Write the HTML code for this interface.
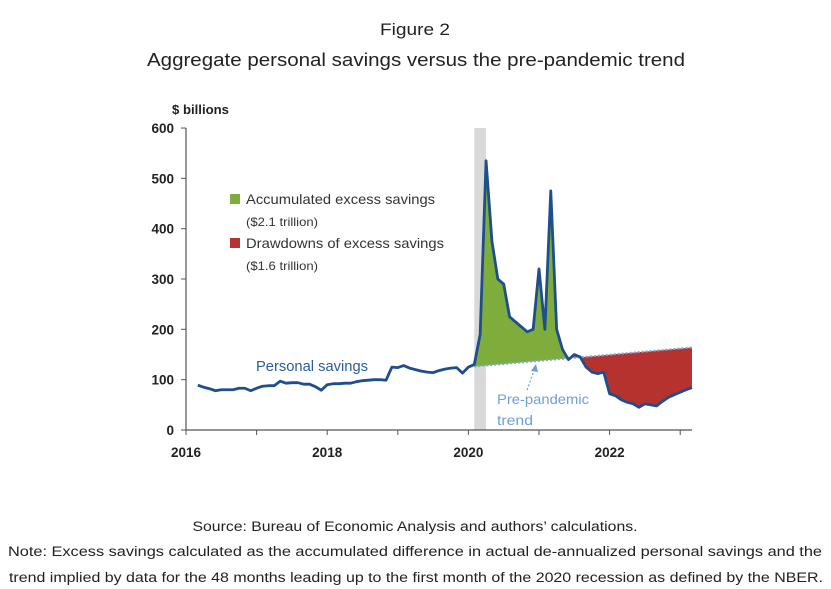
<!DOCTYPE html>
<html><head><meta charset="utf-8"><style>
html,body{margin:0;padding:0;background:#fff;}
svg{display:block;font-family:"Liberation Sans",sans-serif;}
</style></head><body>
<svg id="chart" width="831" height="589" viewBox="0 0 831 589">
<text x="415" y="35" font-size="17" fill="#222" text-anchor="middle" textLength="70" lengthAdjust="spacingAndGlyphs">Figure 2</text>
<text x="416" y="66" font-size="18" fill="#222" text-anchor="middle" textLength="538" lengthAdjust="spacingAndGlyphs">Aggregate personal savings versus the pre-pandemic trend</text>
<text x="172" y="114" font-size="13" font-weight="bold" fill="#222" textLength="57" lengthAdjust="spacingAndGlyphs">$ billions</text>
<g id="plot"></g>
<text x="415" y="531" font-size="13.5" fill="#222" text-anchor="middle" textLength="445" lengthAdjust="spacingAndGlyphs">Source: Bureau of Economic Analysis and authors’ calculations.</text>
<text x="415" y="556" font-size="13.5" fill="#222" text-anchor="middle" textLength="814" lengthAdjust="spacingAndGlyphs">Note: Excess savings calculated as the accumulated difference in actual de-annualized personal savings and the</text>
<text x="416" y="582" font-size="13.5" fill="#222" text-anchor="middle" textLength="814" lengthAdjust="spacingAndGlyphs">trend implied by data for the 48 months leading up to the first month of the 2020 recession as defined by the NBER.</text>
</svg>
<script>
const startYear = 2016, startMonth = 3;
const savings = [89,85,82,78,80,80,80,83,83,78,
83,87,88,88,97,93,94,94,91,91,86,79,
90,92,92,93,93,96,98,99,100,100,99,125,
124,128,123,120,117,115,114,118,121,123,124,113,
125,130,190,535,375,300,290,225,215,205,195,200,
320,200,475,200,160,140,150,145,125,115,112,115,
72,68,60,55,52,45,52,50,48,57,65,70,
75,80,84];
const trendStartIdx = 47, trendStartVal = 126;
const trendEndVal = 164;
const yTicks = [0,100,200,300,400,500,600];
const xTickYears = [2016,2017,2018,2019,2020,2021,2022,2023];
const xLabelYears = [2016,2018,2020,2022];
const recession = [2020+1/12, 2020+3/12];
const greenRange = [47, 64];
const redRange = [64, savings.length-1];

const NS="http://www.w3.org/2000/svg";
const g=document.getElementById('plot');
const X0=186, PXY=70.6, Y0=430, PXV=0.5033;
const xYear=t=>X0+(t-2016)*PXY;
const xIdx=i=>xYear(startYear+(startMonth-1+i)/12);
const y=v=>Y0-v*PXV;
const lastIdx=savings.length-1;
const trend=i=>trendStartVal+(trendEndVal-trendStartVal)*(i-trendStartIdx)/(lastIdx-trendStartIdx);
function mk(tag,attrs){const e=document.createElementNS(NS,tag);for(const k in attrs)e.setAttribute(k,attrs[k]);g.appendChild(e);return e;}

const rec=mk('rect',{x:xYear(recession[0]),y:y(600),width:xYear(recession[1])-xYear(recession[0]),height:Y0-y(600),fill:'#d9d9d9'});



function area(r,color,name){
  let top='',bot=[];
  for(let i=r[0];i<=r[1];i++){top+=(i===r[0]?'M':'L')+xIdx(i)+','+y(savings[i])+' ';bot.push(xIdx(i)+','+y(trend(i)));}
  const p=mk('path',{d:top+'L'+bot.reverse().join(' L')+'Z',fill:color});
  
  
}
area(greenRange,'#7fad3c','excess-savings-area');
area(redRange,'#b5322e','drawdown-area');

const tl=mk('line',{x1:xIdx(trendStartIdx),y1:y(trend(trendStartIdx)),x2:xIdx(lastIdx),y2:y(trend(lastIdx)),stroke:'#7fa8d8','stroke-width':2,'stroke-dasharray':'2,2'});



const ax=mk('path',{d:`M${X0},${y(600)} L${X0},${Y0} L692,${Y0}`,fill:'none',stroke:'#555','stroke-width':1.2});


yTicks.forEach(v=>{
  mk('line',{x1:X0-5,x2:X0,y1:y(v),y2:y(v),stroke:'#555'});
  const t=mk('text',{x:X0-12,y:y(v)+5,'font-size':13.5,'font-weight':'bold',fill:'#222','text-anchor':'end'});
  t.textContent=v;
  
  
});
xTickYears.forEach(yr=>mk('line',{x1:xYear(yr),x2:xYear(yr),y1:Y0,y2:Y0+5,stroke:'#555'}));
xLabelYears.forEach(yr=>{
  const t=mk('text',{x:xYear(yr),y:Y0+27,'font-size':13.5,'font-weight':'bold',fill:'#222','text-anchor':'middle'});
  t.textContent=yr;
  
  
});

const pts=savings.map((v,i)=>xIdx(i)+','+y(v)).join(' ');
const ln=mk('polyline',{points:pts,fill:'none',stroke:'#1f4e8c','stroke-width':2.8,'stroke-linejoin':'round'});



function txt(x,yy,s,fs,fill,name,len){const t=mk('text',{x:x,y:yy,'font-size':fs,fill:fill});if(len){t.setAttribute('textLength',len);t.setAttribute('lengthAdjust','spacingAndGlyphs');}t.textContent=s;return t;}
const s1=mk('rect',{x:230,y:194,width:10,height:10,fill:'#7fad3c'});


txt(246,204,'Accumulated excess savings',14,'#333','legend-entry-excess',189);
txt(246,226,'($2.1 trillion)',12,'#333','legend-sub-excess',72);
const s2=mk('rect',{x:230,y:238,width:10,height:10,fill:'#b5322e'});


txt(246,248,'Drawdowns of excess savings',14,'#333','legend-entry-drawdown',198);
txt(246,270,'($1.6 trillion)',12,'#333','legend-sub-drawdown',72);
txt(256,371,'Personal savings',14.5,'#2a5d9c','series-label-savings',112);
txt(497,404,'Pre-pandemic',14,'#6f9fd6','trend-label-line1',92);
txt(497,425,'trend',14,'#6f9fd6','trend-label-line2',36);
const ar=mk('path',{d:'M527,390 L535,368',stroke:'#6f9fd6','stroke-width':1.2,'stroke-dasharray':'2,2',fill:'none'});


const ah=mk('path',{d:'M536,364 L531,371 L538,372 Z',fill:'#6f9fd6'});


</script>
</body></html>
